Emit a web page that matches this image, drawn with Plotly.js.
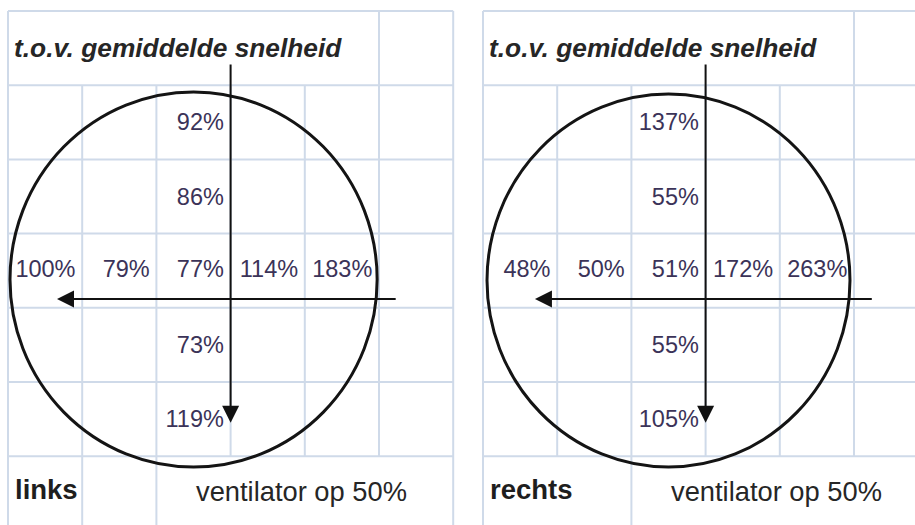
<!DOCTYPE html>
<html><head><meta charset="utf-8">
<script src="https://cdn.plot.ly/plotly-3.0.1.min.js"></script>
<style>html,body{margin:0;padding:0;background:#fff;}#chart{width:915px;height:525px;}</style>
</head><body><div id="chart"></div>
<script>
// ---------- data ----------
const panelNames = ['links', 'rechts'];
const subtitle = 't.o.v. gemiddelde snelheid';
const fanLabel = 'ventilator op 50%';
// middle row, left to right (% of mean speed)
const rowLinks = [100, 79, 77, 114, 183];
const rowRechts = [48, 50, 51, 172, 263];
// central column, top to bottom (without the middle-row cell)
const colLinks = [92, 86, 73, 119];
const colRechts = [137, 55, 55, 105];

// ---------- geometry (cell units) ----------
const CELL = 74.2;               // px per cell
const FIG_W = 915, FIG_H = 525;
const TOP = 11;                  // px of first grid row
const ORIG = [8, 483];           // px of first grid column per panel
const SPLIT = 457.5;             // px where left subplot ends
const FONT = '"Liberation Sans", Arial, sans-serif';
const GRID = '#cfdae9';
const TXT = '#3b3358';

function xr(p, lo, hi) { return [(lo - ORIG[p]) / CELL, (hi - ORIG[p]) / CELL]; }
const yRange = [(FIG_H - TOP) / CELL, -TOP / CELL];

const traces = [];
const shapes = [];
const annotations = [];
const pad = 0.09;
const rowY = 3.5;
const colRows = [1, 2, 4, 5];

[[rowLinks, colLinks], [rowRechts, colRechts]].forEach(([row, col], p) => {
  const xa = p === 0 ? 'x' : 'x2';
  const xs = [], ys = [], tx = [];
  row.forEach((v, i) => { xs.push(i + 1 - pad); ys.push(rowY); tx.push(v + '%'); });
  col.forEach((v, i) => { xs.push(3 - pad); ys.push(colRows[i] + 0.53); tx.push(v + '%'); });
  traces.push({
    type: 'scatter', mode: 'text', x: xs, y: ys, text: tx,
    textposition: 'middle left', xaxis: xa, yaxis: 'y', cliponaxis: false,
    textfont: {family: FONT, size: 23.5, color: TXT}, hoverinfo: 'skip', showlegend: false
  });

  // grid lines
  const yEnd = 7.2;
  const xMax = p === 0 ? 6 : 7;
  for (let r = 0; r <= 6; r++) {
    shapes.push({type: 'line', xref: xa, yref: 'y', x0: 0, x1: xMax, y0: r, y1: r,
      line: {color: GRID, width: 2}, layer: 'below'});
  }
  const vspec = p === 0
    ? [[0, 0, yEnd], [1, 1, yEnd], [2, 1, yEnd], [3, 1, 6], [4, 1, 6], [5, 0, 6], [6, 0, yEnd]]
    : [[0, 0, yEnd], [1, 1, 6], [2, 1, yEnd], [3, 1, 6], [4, 1, 6], [5, 0, 6]];
  vspec.forEach(([c, a, b]) => shapes.push({type: 'line', xref: xa, yref: 'y', x0: c, x1: c, y0: a, y1: b,
    line: {color: GRID, width: 2}, layer: 'below'}));

  // circle
  const circ = p === 0 ? [0.027, 1.09, 4.975, 6.146] : [0.054, 1.12, 4.946, 6.146];
  shapes.push({type: 'circle', xref: xa, yref: 'y', x0: circ[0], y0: circ[1], x1: circ[2], y1: circ[3],
    line: {color: '#141414', width: 3}, fillcolor: 'rgba(0,0,0,0)'});

  // arrows
  const xref = xa, axref = xa;
  annotations.push({xref, yref: 'y', axref, ayref: 'y', x: 3, y: 5.55, ax: 3, ay: 0.7, text: '',
    showarrow: true, arrowhead: 2, arrowsize: 1.7, arrowwidth: 2, arrowcolor: '#111', standoff: 0});
  const hx = p === 0 ? [0.66, 5.245] : [0.70, 5.26];
  annotations.push({xref, yref: 'y', axref, ayref: 'y', x: hx[0], y: 3.88, ax: hx[1], ay: 3.88, text: '',
    showarrow: true, arrowhead: 2, arrowsize: 1.7, arrowwidth: 2, arrowcolor: '#111', standoff: 0});

  // texts
  annotations.push({xref, yref: 'y', x: 0.06, y: 0.5, xanchor: 'left', yanchor: 'middle', showarrow: false,
    text: '<b><i>' + subtitle + '</i></b>', font: {family: FONT, size: 26.3, color: '#262626'}});
  annotations.push({xref, yref: 'y', x: 0.07, y: 6.45, xanchor: 'left', yanchor: 'middle', showarrow: false,
    text: '<b>' + panelNames[p] + '</b>', font: {family: FONT, size: 27.5, color: '#1e1e1e'}});
  annotations.push({xref, yref: 'y', x: 3.96, y: 6.47, xanchor: 'center', yanchor: 'middle', showarrow: false,
    text: fanLabel, font: {family: FONT, size: 27.3, color: '#262626'}});
});

const axBase = {showgrid: false, zeroline: false, showticklabels: false, ticks: '', showline: false, fixedrange: true};
const layout = {
  width: FIG_W, height: FIG_H, margin: {l: 0, r: 0, t: 0, b: 0},
  paper_bgcolor: '#fff', plot_bgcolor: '#fff', showlegend: false,
  xaxis: Object.assign({}, axBase, {domain: [0, SPLIT / FIG_W], range: xr(0, 0, SPLIT)}),
  xaxis2: Object.assign({}, axBase, {domain: [SPLIT / FIG_W, 1], range: xr(1, SPLIT, FIG_W), anchor: 'y'}),
  yaxis: Object.assign({}, axBase, {domain: [0, 1], range: yRange}),
  shapes, annotations
};
Plotly.newPlot('chart', traces, layout, {staticPlot: true, displayModeBar: false});
</script></body></html>
